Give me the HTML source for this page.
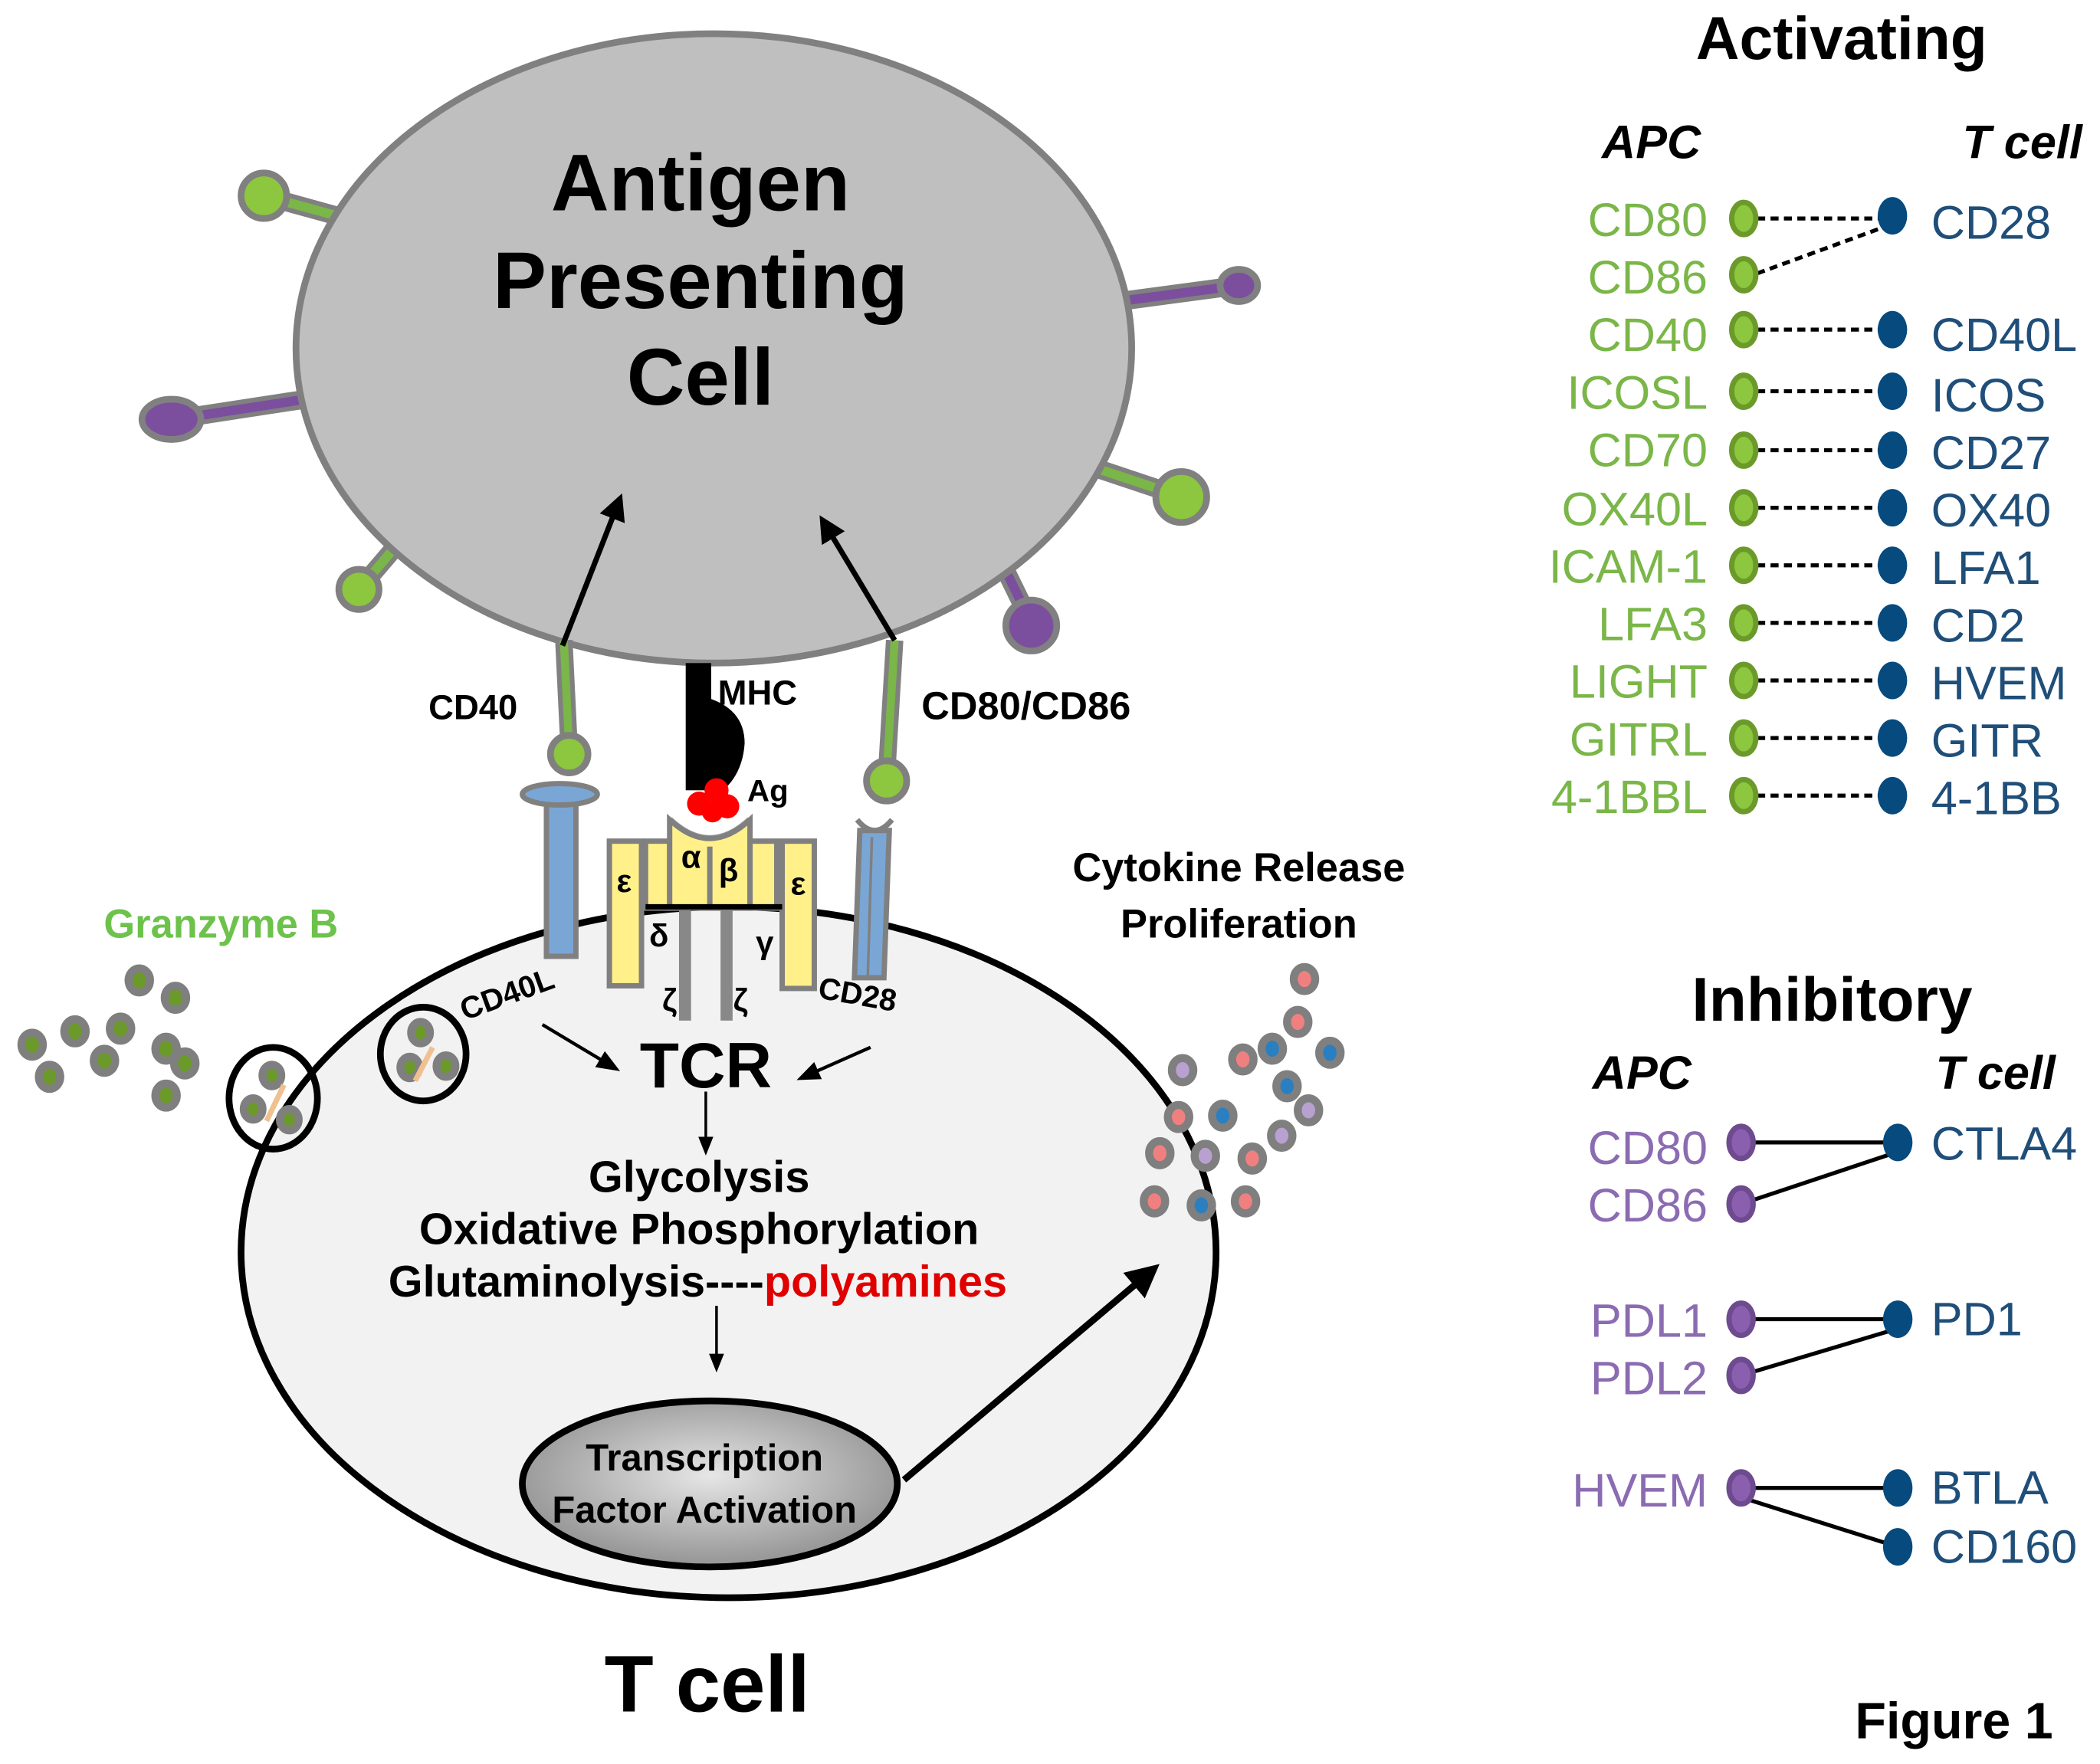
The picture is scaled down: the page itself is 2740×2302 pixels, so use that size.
<!DOCTYPE html>
<html><head><meta charset="utf-8"><style>html,body{margin:0;padding:0;background:#fff}svg{display:block}</style></head>
<body>
<svg xmlns="http://www.w3.org/2000/svg" width="2740" height="2302" viewBox="0 0 1568 1317" font-family="Liberation Sans, sans-serif">
<defs>
<radialGradient id="tf" cx="50%" cy="45%" r="60%"><stop offset="0" stop-color="#e6e6e6"/><stop offset="1" stop-color="#8c8c8c"/></radialGradient>
<marker id="ah" viewBox="0 0 10 10" refX="8" refY="5" markerWidth="5" markerHeight="5" orient="auto"><path d="M0,0L10,5L0,10z" fill="#000"/></marker>
<marker id="ahs" viewBox="0 0 10 10" refX="8" refY="5" markerWidth="7" markerHeight="7" orient="auto"><path d="M0,1L10,5L0,9z" fill="#000"/></marker>
</defs>
<!-- spokes -->
<g stroke-linecap="round">
<line x1="255" y1="162" x2="197" y2="146" stroke="#808080" stroke-width="14"/><line x1="255" y1="162" x2="197" y2="146" stroke="#7ab648" stroke-width="7"/>
<circle cx="197" cy="146" r="17" fill="#8dc63f" stroke="#808080" stroke-width="5"/>
<line x1="835" y1="225" x2="925" y2="213" stroke="#808080" stroke-width="14"/><line x1="835" y1="225" x2="925" y2="213" stroke="#7b4f9d" stroke-width="7"/>
<ellipse cx="925" cy="213" rx="14" ry="12" fill="#7b4f9d" stroke="#808080" stroke-width="5"/>
<line x1="228" y1="298" x2="130" y2="313" stroke="#808080" stroke-width="14"/><line x1="228" y1="298" x2="130" y2="313" stroke="#7b4f9d" stroke-width="7"/>
<ellipse cx="128" cy="313" rx="22" ry="15" fill="#7b4f9d" stroke="#808080" stroke-width="5"/>
<line x1="820" y1="350" x2="880" y2="370" stroke="#808080" stroke-width="14"/><line x1="820" y1="350" x2="880" y2="370" stroke="#7ab648" stroke-width="7"/>
<circle cx="882" cy="371" r="19" fill="#8dc63f" stroke="#808080" stroke-width="5"/>
<line x1="298" y1="405" x2="268" y2="440" stroke="#808080" stroke-width="14"/><line x1="298" y1="405" x2="268" y2="440" stroke="#7ab648" stroke-width="7"/>
<circle cx="268" cy="440" r="15" fill="#8dc63f" stroke="#808080" stroke-width="5"/>
<line x1="748" y1="420" x2="770" y2="465" stroke="#808080" stroke-width="14"/><line x1="748" y1="420" x2="770" y2="465" stroke="#7b4f9d" stroke-width="7"/>
<circle cx="770" cy="467" r="19" fill="#7b4f9d" stroke="#808080" stroke-width="5"/>
</g>
<!-- APC -->
<ellipse cx="533" cy="260" rx="312" ry="235" fill="#bfbfbf" stroke="#808080" stroke-width="5"/>
<g font-weight="bold" font-size="60" text-anchor="middle" fill="#000">
<text x="523" y="157">Antigen</text><text x="523" y="230">Presenting</text><text x="523" y="302">Cell</text></g>
<!-- T cell -->
<ellipse cx="544" cy="935" rx="364" ry="258" fill="#f2f2f2" stroke="#000" stroke-width="5"/>
<!-- CD40 stem -->
<line x1="421" y1="478" x2="425" y2="560" stroke="#808080" stroke-width="13"/><line x1="421" y1="478" x2="425" y2="560" stroke="#7ab648" stroke-width="6"/>
<circle cx="425" cy="563" r="14" fill="#8dc63f" stroke="#808080" stroke-width="5"/>
<line x1="668" y1="478" x2="662" y2="578" stroke="#808080" stroke-width="13"/><line x1="668" y1="478" x2="662" y2="578" stroke="#7ab648" stroke-width="6"/>
<circle cx="662" cy="583" r="15" fill="#8dc63f" stroke="#808080" stroke-width="5"/>
<!-- CD40L blue -->
<rect x="408" y="594" width="22" height="120" fill="#7aa6d6" stroke="#808080" stroke-width="4"/>
<ellipse cx="418" cy="593" rx="28" ry="8" fill="#7aa6d6" stroke="#808080" stroke-width="4"/>
<!-- CD28 blue -->
<path d="M642 620 L664 620 L660 730 L638 730 Z" fill="#7aa6d6" stroke="#808080" stroke-width="4"/>
<path d="M640 612 Q653 628 666 612" fill="none" stroke="#808080" stroke-width="4"/>
<line x1="651" y1="625" x2="648" y2="728" stroke="#808080" stroke-width="2"/>
<!-- MHC -->
<rect x="512" y="495" width="19" height="95" fill="#000"/>
<path d="M525 520 Q556 528 556 555 Q554 585 528 598 Z" fill="#000"/>
<g fill="#ff0000"><circle cx="522" cy="600" r="9"/><circle cx="535" cy="590" r="9"/><circle cx="543" cy="602" r="9"/><circle cx="532" cy="606" r="8"/></g>
<path d="M500 612 Q530 640 560 612" fill="none" stroke="#999" stroke-width="5"/>
<!-- TCR bars -->
<g fill="#fff08a" stroke="#808080" stroke-width="4">
<rect x="455" y="628" width="24" height="108"/><rect x="482" y="628" width="18" height="50"/>
<path d="M500 612 Q530 640 560 612 L560 678 L500 678 Z"/>
<line x1="530" y1="632" x2="530" y2="678"/>
<rect x="560" y="628" width="20" height="50"/><rect x="584" y="628" width="24" height="110"/></g>
<line x1="482" y1="677" x2="584" y2="677" stroke="#000" stroke-width="4"/>
<rect x="507" y="680" width="9" height="82" fill="#888"/><rect x="538" y="680" width="9" height="82" fill="#888"/>
<g font-weight="bold" font-size="24" text-anchor="middle">
<text x="466" y="666">ε</text><text x="596" y="668">ε</text><text x="516" y="648">α</text><text x="544" y="658">β</text>
<text x="492" y="707">δ</text><text x="571" y="712">γ</text><text x="500" y="755">ζ</text><text x="553" y="755">ζ</text></g>
<g font-weight="bold" font-size="26" fill="#000">
<text x="320" y="537">CD40</text><text x="688" y="537" font-size="29">CD80/CD86</text>
<text x="536" y="526">MHC</text><text x="558" y="598" font-size="23">Ag</text>
<text x="347" y="762" font-size="23" transform="rotate(-20 347 762)">CD40L</text>
<text x="610" y="745" font-size="23" transform="rotate(10 610 745)">CD28</text>
<text x="925" y="658" text-anchor="middle" font-size="30">Cytokine Release</text>
<text x="925" y="700" text-anchor="middle" font-size="30">Proliferation</text>
<text x="165" y="700" text-anchor="middle" font-size="30" fill="#6dc24b">Granzyme B</text>
<text x="527" y="812" text-anchor="middle" font-size="48">TCR</text>
<text x="522" y="890" text-anchor="middle" font-size="33">Glycolysis</text>
<text x="522" y="929" text-anchor="middle" font-size="33">Oxidative Phosphorylation</text>
<text x="290" y="968" font-size="33">Glutaminolysis----<tspan fill="#e00000">polyamines</tspan></text>
<text x="528" y="1278" text-anchor="middle" font-size="60">T cell</text>
</g>
<!-- arrows -->
<g stroke="#000" fill="none">
<line x1="420" y1="482" x2="463" y2="372" stroke-width="4" marker-end="url(#ah)"/>
<line x1="668" y1="478" x2="614" y2="388" stroke-width="4" marker-end="url(#ah)"/>
<line x1="405" y1="765" x2="460" y2="798" stroke-width="2.5" marker-end="url(#ahs)"/>
<line x1="650" y1="782" x2="598" y2="805" stroke-width="2.5" marker-end="url(#ahs)"/>
<line x1="527" y1="815" x2="527" y2="860" stroke-width="2" marker-end="url(#ahs)"/>
<line x1="535" y1="975" x2="535" y2="1022" stroke-width="2" marker-end="url(#ahs)"/>
<line x1="675" y1="1105" x2="862" y2="947" stroke-width="5" marker-end="url(#ah)"/>
</g>
<!-- TF nucleus -->
<ellipse cx="530" cy="1108" rx="140" ry="62" fill="url(#tf)" stroke="#000" stroke-width="5"/>
<g font-weight="bold" font-size="28" text-anchor="middle"><text x="526" y="1098">Transcription</text><text x="526" y="1137">Factor Activation</text></g>
<!-- granzyme dots -->
<g fill="#6b9a2a" stroke="#7f7f7f" stroke-width="6">
<ellipse cx="104" cy="732" rx="8" ry="9"/><ellipse cx="131" cy="745" rx="8" ry="9"/><ellipse cx="24" cy="780" rx="8" ry="9"/>
<ellipse cx="56" cy="770" rx="8" ry="9"/><ellipse cx="90" cy="768" rx="8" ry="9"/><ellipse cx="78" cy="792" rx="8" ry="9"/>
<ellipse cx="37" cy="804" rx="8" ry="9"/><ellipse cx="124" cy="783" rx="8" ry="9"/><ellipse cx="138" cy="794" rx="8" ry="9"/>
<ellipse cx="124" cy="818" rx="8" ry="9"/>
<ellipse cx="203" cy="803" rx="7" ry="8"/><ellipse cx="189" cy="828" rx="7" ry="8"/><ellipse cx="216" cy="836" rx="7" ry="8"/>
<ellipse cx="314" cy="771" rx="7" ry="8"/><ellipse cx="306" cy="797" rx="7" ry="8"/><ellipse cx="333" cy="796" rx="7" ry="8"/>
</g>
<line x1="199" y1="837" x2="212" y2="810" stroke="#f0c090" stroke-width="4"/>
<line x1="310" y1="807" x2="323" y2="782" stroke="#f0c090" stroke-width="4"/>
<ellipse cx="204" cy="820" rx="33" ry="38" fill="none" stroke="#000" stroke-width="5"/>
<ellipse cx="316" cy="787" rx="32" ry="35" fill="none" stroke="#000" stroke-width="5"/>
<!-- cytokine dots -->
<g stroke="#7f7f7f" stroke-width="6">
<ellipse cx="974" cy="731" rx="8" ry="9" fill="#f08080"/><ellipse cx="969" cy="763" rx="8" ry="9" fill="#f08080"/>
<ellipse cx="950" cy="783" rx="8" ry="9" fill="#2a7fc0"/><ellipse cx="928" cy="791" rx="8" ry="9" fill="#f08080"/>
<ellipse cx="993" cy="786" rx="8" ry="9" fill="#2a7fc0"/><ellipse cx="883" cy="799" rx="8" ry="9" fill="#b8a0d0"/>
<ellipse cx="961" cy="811" rx="8" ry="9" fill="#2a7fc0"/><ellipse cx="977" cy="829" rx="8" ry="9" fill="#b8a0d0"/>
<ellipse cx="880" cy="834" rx="8" ry="9" fill="#f08080"/><ellipse cx="913" cy="833" rx="8" ry="9" fill="#2a7fc0"/>
<ellipse cx="957" cy="848" rx="8" ry="9" fill="#b8a0d0"/><ellipse cx="866" cy="861" rx="8" ry="9" fill="#f08080"/>
<ellipse cx="900" cy="863" rx="8" ry="9" fill="#b8a0d0"/><ellipse cx="935" cy="865" rx="8" ry="9" fill="#f08080"/>
<ellipse cx="862" cy="897" rx="8" ry="9" fill="#f08080"/><ellipse cx="897" cy="900" rx="8" ry="9" fill="#2a7fc0"/>
<ellipse cx="930" cy="897" rx="8" ry="9" fill="#f08080"/>
</g>
<!-- Activating panel -->
<g font-weight="bold" text-anchor="middle">
<text x="1375" y="44" font-size="45">Activating</text>
<text x="1233" y="118" font-size="35" font-style="italic">APC</text><text x="1510" y="118" font-size="35" font-style="italic">T cell</text>
<text x="1368" y="762" font-size="46">Inhibitory</text>
<text x="1226" y="813" font-size="35" font-style="italic">APC</text><text x="1490" y="813" font-size="35" font-style="italic">T cell</text>
<text x="1459" y="1298" font-size="38">Figure 1</text>
</g>
<g stroke="#000" stroke-width="3" stroke-dasharray="6,4">
<line x1="1312" y1="163" x2="1405" y2="163"/><line x1="1312" y1="204" x2="1405" y2="170"/>
<line x1="1312" y1="246" x2="1405" y2="246"/><line x1="1312" y1="292" x2="1405" y2="292"/>
<line x1="1312" y1="336" x2="1405" y2="336"/><line x1="1312" y1="379" x2="1405" y2="379"/>
<line x1="1312" y1="422" x2="1405" y2="422"/><line x1="1312" y1="465" x2="1405" y2="465"/>
<line x1="1312" y1="508" x2="1405" y2="508"/><line x1="1312" y1="551" x2="1405" y2="551"/>
<line x1="1312" y1="594" x2="1405" y2="594"/>
</g>
<g font-size="35" text-anchor="end" fill="#7ab648">
<text x="1275" y="176">CD80</text><text x="1275" y="219">CD86</text><text x="1275" y="262">CD40</text><text x="1275" y="305">ICOSL</text>
<text x="1275" y="348">CD70</text><text x="1275" y="392">OX40L</text><text x="1275" y="435">ICAM-1</text><text x="1275" y="478">LFA3</text>
<text x="1275" y="521">LIGHT</text><text x="1275" y="564">GITRL</text><text x="1275" y="607">4-1BBL</text></g>
<g font-size="35" fill="#1f4e79">
<text x="1442" y="178">CD28</text><text x="1442" y="262">CD40L</text><text x="1442" y="307">ICOS</text>
<text x="1442" y="350">CD27</text><text x="1442" y="393">OX40</text><text x="1442" y="436">LFA1</text><text x="1442" y="479">CD2</text>
<text x="1442" y="522">HVEM</text><text x="1442" y="565">GITR</text><text x="1442" y="608">4-1BB</text>
<text x="1442" y="866">CTLA4</text><text x="1442" y="997">PD1</text><text x="1442" y="1123">BTLA</text><text x="1442" y="1167">CD160</text></g>
<g fill="#8dc63f" stroke="#6b9a2a" stroke-width="4">
<ellipse cx="1302" cy="163" rx="9" ry="12"/><ellipse cx="1302" cy="205" rx="9" ry="12"/><ellipse cx="1302" cy="246" rx="9" ry="12"/>
<ellipse cx="1302" cy="292" rx="9" ry="12"/><ellipse cx="1302" cy="336" rx="9" ry="12"/><ellipse cx="1302" cy="379" rx="9" ry="12"/>
<ellipse cx="1302" cy="422" rx="9" ry="12"/><ellipse cx="1302" cy="465" rx="9" ry="12"/><ellipse cx="1302" cy="508" rx="9" ry="12"/>
<ellipse cx="1302" cy="551" rx="9" ry="12"/><ellipse cx="1302" cy="594" rx="9" ry="12"/></g>
<g fill="#064a7e">
<ellipse cx="1413" cy="161" rx="11" ry="14"/><ellipse cx="1413" cy="246" rx="11" ry="14"/><ellipse cx="1413" cy="292" rx="11" ry="14"/>
<ellipse cx="1413" cy="336" rx="11" ry="14"/><ellipse cx="1413" cy="379" rx="11" ry="14"/><ellipse cx="1413" cy="422" rx="11" ry="14"/>
<ellipse cx="1413" cy="465" rx="11" ry="14"/><ellipse cx="1413" cy="508" rx="11" ry="14"/><ellipse cx="1413" cy="551" rx="11" ry="14"/>
<ellipse cx="1413" cy="594" rx="11" ry="14"/></g>
<!-- inhibitory -->
<g stroke="#000" stroke-width="3">
<line x1="1300" y1="853" x2="1417" y2="853"/><line x1="1300" y1="899" x2="1417" y2="860"/>
<line x1="1300" y1="985" x2="1417" y2="985"/><line x1="1300" y1="1027" x2="1417" y2="992"/>
<line x1="1300" y1="1111" x2="1417" y2="1111"/><line x1="1300" y1="1118" x2="1417" y2="1155"/></g>
<g font-size="35" text-anchor="end" fill="#8b6bb1">
<text x="1275" y="869">CD80</text><text x="1275" y="912">CD86</text><text x="1275" y="998">PDL1</text><text x="1275" y="1041">PDL2</text><text x="1275" y="1125">HVEM</text></g>
<g fill="#8b5fb0" stroke="#6e4a8e" stroke-width="4">
<ellipse cx="1300" cy="853" rx="9" ry="12"/><ellipse cx="1300" cy="899" rx="9" ry="12"/><ellipse cx="1300" cy="985" rx="9" ry="12"/>
<ellipse cx="1300" cy="1027" rx="9" ry="12"/><ellipse cx="1300" cy="1111" rx="9" ry="12"/></g>
<g fill="#064a7e">
<ellipse cx="1417" cy="853" rx="11" ry="14"/><ellipse cx="1417" cy="985" rx="11" ry="14"/><ellipse cx="1417" cy="1111" rx="11" ry="14"/><ellipse cx="1417" cy="1155" rx="11" ry="14"/></g>
</svg>
</body></html>
